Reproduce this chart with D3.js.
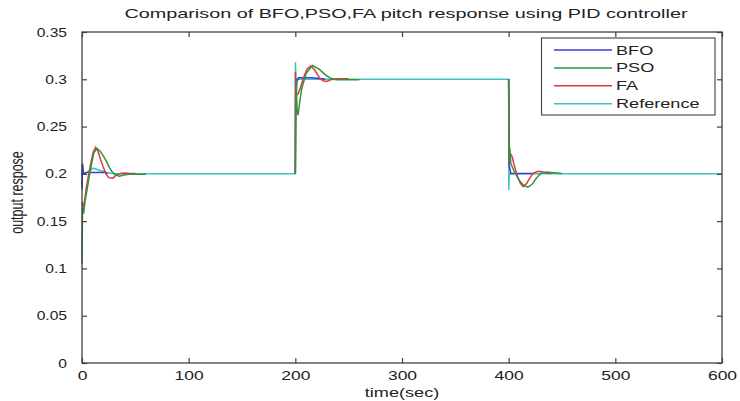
<!DOCTYPE html>
<html>
<head>
<meta charset="utf-8">
<script src="https://cdn.jsdelivr.net/npm/d3@7"></script>
<style>
  body { margin: 0; background: #fff; }
  text { font-family: "Liberation Sans", Arial, sans-serif; fill: #222; }
</style>
</head>
<body>
<div id="chart"></div>
<script>
// Data, null = gap between simulation windows
var xTicks = [0, 100, 200, 300, 400, 500, 600];
var yTicks = [0, 0.05, 0.1, 0.15, 0.2, 0.25, 0.3, 0.35];
var seriesNames = ["BFO", "PSO", "FA", "Reference"];

var refPts = [[0, 0.183], [0.4, 0.21], [1, 0.2], [4, 0.201], [10.5, 0.206], [23, 0.2015], [30, 0.2],
  [200, 0.2], [200.1, 0.318], [200.6, 0.3], [400, 0.3], [400.1, 0.183], [400.6, 0.2], [600, 0.2]];

var bfoPts = [[0, 0.185], [0.4, 0.211], [1.5, 0.2], [4, 0.2015], [22, 0.2015], [24, 0.2], null,
  [200, 0.2], [200.3, 0.28], [201.5, 0.298], [203, 0.3015], [215, 0.3015], [225, 0.3005], [228, 0.3], null,
  [400, 0.3], [400.3, 0.21], [402, 0.2005], [422, 0.2005], [423, 0.2]];

var psoPts = [[0, 0.105], [0.5, 0.165], [1.5, 0.158], [3, 0.172], [5, 0.185], [8, 0.205], [11, 0.222],
  [14, 0.227], [17, 0.224], [20, 0.219], [23, 0.213], [26, 0.206], [28, 0.2025], [31, 0.199],
  [35, 0.1975], [40, 0.199], [45, 0.1995], [60, 0.1995], null,
  [200, 0.2], [200.9, 0.301], [201.5, 0.27], [202.5, 0.262], [204, 0.275], [206, 0.29], [210, 0.306],
  [216, 0.3145], [222, 0.311], [228, 0.305], [233, 0.301], [238, 0.2995], [245, 0.2995], [260, 0.2995], null,
  [400, 0.3], [400.4, 0.215], [401, 0.228], [402, 0.211], [405, 0.203], [410, 0.193], [414, 0.188],
  [418, 0.186], [422, 0.189], [426, 0.1955], [430, 0.2005], [435, 0.202], [440, 0.2015], [450, 0.2005]];

var faPts = [[0, 0.17], [1, 0.165], [2.5, 0.172], [4, 0.185], [6, 0.198], [8, 0.21], [10.5, 0.223],
  [12.8, 0.228], [15, 0.224], [17.5, 0.215], [20, 0.207], [22.5, 0.2], [25, 0.196], [29, 0.1955],
  [32, 0.1985], [36, 0.2005], [40, 0.201], [45, 0.2005], [50, 0.2005], null,
  [200, 0.2], [200.1, 0.308], [200.6, 0.283], [202.8, 0.285], [205, 0.292], [207.5, 0.301], [211, 0.311],
  [214.4, 0.314], [218, 0.31], [223, 0.301], [226, 0.2985], [229.4, 0.2978], [233, 0.2995], [238, 0.3005], [250, 0.3005], null,
  [400, 0.3], [400.3, 0.212], [401, 0.222], [403, 0.219], [405, 0.21], [408, 0.198], [411, 0.19],
  [413.7, 0.1865], [417, 0.19], [420, 0.196], [423, 0.2005], [427, 0.2025], [430, 0.2025], [435, 0.201], [440, 0.2005]];

// Chart setup
var svgWidth = 740;
var svgHeight = 401;
var plot = { left: 82, right: 722, top: 32, bottom: 363 };
var sx = 1.45;  // the picture is stretched sideways, text too
var sxTick = 1.25;

var colors = { BFO: "#3b3bd0", PSO: "#2f9440", FA: "#e0383a", Reference: "#3cc4c4" };

var svg = d3.select("#chart").append("svg")
  .attr("width", svgWidth)
  .attr("height", svgHeight);

var xScale = d3.scaleLinear().domain([0, 600]).range([plot.left, plot.right]);
var yScale = d3.scaleLinear().domain([0, 0.35]).range([plot.bottom, plot.top]);

// Lines
var line = d3.line()
  .defined(d => d !== null)
  .x(d => xScale(d[0]))
  .y(d => yScale(d[1]));

var drawOrder = [["Reference", refPts], ["BFO", bfoPts], ["FA", faPts], ["PSO", psoPts]];
drawOrder.forEach(function(s) {
  svg.append("path")
    .datum(s[1])
    .attr("d", line)
    .attr("fill", "none")
    .attr("stroke", colors[s[0]])
    .attr("stroke-width", 1.5);
});

// Axes (inward ticks on all four sides)
var axisColor = "#404040";

var bottomAxis = d3.axisBottom(xScale).tickValues(xTicks).tickSizeInner(-5).tickSizeOuter(0).tickPadding(8);
var topAxis = d3.axisTop(xScale).tickValues(xTicks).tickSizeInner(-5).tickSizeOuter(0).tickFormat("");
var leftAxis = d3.axisLeft(yScale).tickValues(yTicks).tickSizeInner(-5).tickSizeOuter(0)
  .tickPadding(15 / sxTick).tickFormat(d => d3.format("")(+d.toFixed(2)));
var rightAxis = d3.axisRight(yScale).tickValues(yTicks).tickSizeInner(-5).tickSizeOuter(0).tickFormat("");

function styleAxis(g, s) {
  g.select(".domain").remove();
  g.selectAll("line").attr("stroke", axisColor).attr("stroke-width", 1.2);
  g.selectAll("text")
    .attr("font-size", "12.5px")
    .attr("fill", "#2a2a2a")
    .attr("font-family", "Liberation Sans, Arial, sans-serif")
    .attr("transform", `scale(${s},1)`);
}

svg.append("g").attr("transform", `translate(0,${plot.bottom})`).call(bottomAxis).call(styleAxis, 1.4);
svg.append("g").attr("transform", `translate(0,${plot.top})`).call(topAxis).call(styleAxis, 1);
svg.append("g").attr("transform", `translate(${plot.left},0)`).call(leftAxis).call(styleAxis, sxTick);
svg.append("g").attr("transform", `translate(${plot.right},0)`).call(rightAxis).call(styleAxis, 1);

// Box
svg.append("rect")
  .attr("x", plot.left)
  .attr("y", plot.top)
  .attr("width", plot.right - plot.left)
  .attr("height", plot.bottom - plot.top)
  .attr("fill", "none")
  .attr("stroke", axisColor)
  .attr("stroke-width", 1.3);

// Title and axis labels
svg.append("text")
  .attr("transform", `translate(${(plot.left + plot.right) / 2 + 4},18) scale(1.5,1)`)
  .attr("text-anchor", "middle")
  .attr("font-size", "13.2px")
  .text("Comparison of BFO,PSO,FA pitch response using PID controller");

svg.append("text")
  .attr("transform", `translate(${(plot.left + plot.right) / 2},397) scale(${sx},1)`)
  .attr("text-anchor", "middle")
  .attr("font-size", "12.5px")
  .text("time(sec)");

svg.append("text")
  .attr("transform", `translate(23,${(plot.top + plot.bottom) / 2 - 5}) rotate(-90) scale(1,${sx})`)
  .attr("text-anchor", "middle")
  .attr("font-size", "12.5px")
  .text("output respose");

// Legend
var legend = svg.append("g");
legend.append("rect")
  .attr("x", 541.5)
  .attr("y", 38)
  .attr("width", 173.5)
  .attr("height", 77)
  .attr("fill", "#fff")
  .attr("stroke", axisColor)
  .attr("stroke-width", 1.1);

var legendRows = legend.selectAll(".row")
  .data(seriesNames)
  .enter()
  .append("g")
  .attr("class", "row")
  .attr("transform", (d, i) => `translate(0,${50 + i * 17.9})`);

legendRows.append("line")
  .attr("x1", 554)
  .attr("x2", 612)
  .attr("stroke", d => colors[d])
  .attr("stroke-width", 1.5);

legendRows.append("text")
  .attr("transform", `translate(616,0) scale(${sx},1)`)
  .attr("dy", "0.36em")
  .attr("font-size", "12.5px")
  .text(d => d);
</script>
</body>
</html>
